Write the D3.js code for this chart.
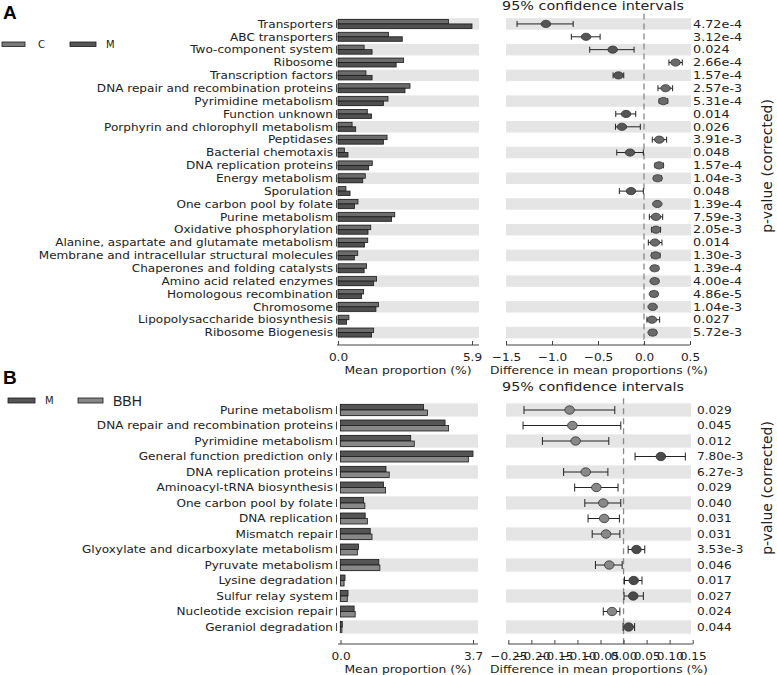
<!DOCTYPE html>
<html><head><meta charset="utf-8">
<script src="https://cdn.jsdelivr.net/npm/d3@7"></script>
<style>body{margin:0;background:#fff}svg{display:block}</style>
</head><body>
<svg id="chart" width="777" height="675"></svg>
<script>
// ---------- Panel A data ----------
const catsA = ["Transporters","ABC transporters","Two-component system","Ribosome","Transcription factors",
 "DNA repair and recombination proteins","Pyrimidine metabolism","Function unknown",
 "Porphyrin and chlorophyll metabolism","Peptidases","Bacterial chemotaxis","DNA replication proteins",
 "Energy metabolism","Sporulation","One carbon pool by folate","Purine metabolism","Oxidative phosphorylation",
 "Alanine, aspartate and glutamate metabolism","Membrane and intracellular structural molecules",
 "Chaperones and folding catalysts","Amino acid related enzymes","Homologous recombination","Chromosome",
 "Lipopolysaccharide biosynthesis","Ribosome Biogenesis"];
const meanC_A = [4.86,2.22,1.15,2.89,1.23,3.17,2.20,1.29,0.62,2.16,0.28,1.51,1.20,0.35,0.88,2.50,1.44,1.31,0.87,1.26,1.70,1.13,1.78,0.48,1.57];
const meanM_A = [5.90,2.83,1.50,2.56,1.50,2.95,2.00,1.47,0.78,2.00,0.44,1.35,1.09,0.53,0.73,2.36,1.32,1.17,0.72,1.15,1.57,1.04,1.67,0.38,1.48];
const diffA = [-1.066,-0.63,-0.34,0.343,-0.278,0.235,0.21,-0.195,-0.24,0.166,-0.152,0.163,0.148,-0.141,0.145,0.13,0.13,0.119,0.126,0.116,0.116,0.108,0.094,0.087,0.094];
const loA   = [-1.38,-0.79,-0.59,0.271,-0.336,0.152,0.166,-0.307,-0.31,0.09,-0.296,0.12,0.11,-0.268,0.12,0.058,0.083,0.047,0.083,0.08,0.08,0.074,0.062,0.032,0.06];
const hiA   = [-0.77,-0.477,-0.108,0.416,-0.22,0.311,0.257,-0.09,-0.04,0.246,-0.007,0.21,0.19,-0.007,0.17,0.203,0.18,0.195,0.174,0.152,0.152,0.142,0.126,0.17,0.13];
const pA = ["4.72e-4","3.12e-4","0.024","2.66e-4","1.57e-4","2.57e-3","5.31e-4","0.014","0.026","3.91e-3","0.048","1.57e-4",
 "1.04e-3","0.048","1.39e-4","7.59e-3","2.05e-3","0.014","1.30e-3","1.39e-4","4.00e-4","4.86e-5","1.04e-3","0.027","5.72e-3"];
const groupsA = ["C","M"];
const ticksA_left = [0, 5.9];
const ticksA_right = [-1.5,-1.0,-0.5,0.0,0.5];

// ---------- Panel B data ----------
const catsB = ["Purine metabolism","DNA repair and recombination proteins","Pyrimidine metabolism",
 "General function prediction only","DNA replication proteins","Aminoacyl-tRNA biosynthesis",
 "One carbon pool by folate","DNA replication","Mismatch repair","Glyoxylate and dicarboxylate metabolism",
 "Pyruvate metabolism","Lysine degradation","Sulfur relay system","Nucleotide excision repair","Geraniol degradation"];
const meanM_B   = [2.32,2.92,1.96,3.70,1.27,1.20,0.64,0.69,0.83,0.50,1.07,0.126,0.21,0.38,0.05];
const meanBBH_B = [2.43,3.02,2.06,3.57,1.36,1.26,0.68,0.75,0.88,0.47,1.10,0.10,0.19,0.41,0.04];
const diffB = [-0.117,-0.111,-0.104,0.081,-0.082,-0.059,-0.044,-0.042,-0.038,0.028,-0.031,0.022,0.021,-0.025,0.011];
const loB   = [-0.216,-0.218,-0.176,0.025,-0.13,-0.106,-0.084,-0.077,-0.068,0.010,-0.061,0.002,0.001,-0.044,-0.001];
const hiB   = [-0.019,-0.006,-0.032,0.134,-0.034,-0.012,-0.006,-0.009,-0.008,0.046,-0.003,0.040,0.043,-0.008,0.024];
const pB = ["0.029","0.045","0.012","7.80e-3","6.27e-3","0.029","0.040","0.031","0.031","3.53e-3","0.046","0.017","0.027","0.024","0.044"];
const groupsB = ["M","BBH"];
const ticksB_left = [0, 3.7];
const ticksB_right = [-0.25,-0.20,-0.15,-0.10,-0.05,0.00,0.05,0.10,0.15];

const svg = d3.select("#chart");
const FONT = "DejaVu Sans, sans-serif";

// stretched text helper (reference text is horizontally widened)
function stext(g, x, y, str, size, sx, anchor) {
  return g.append("text").attr("transform", `translate(${x},${y}) scale(${sx},1)`)
    .attr("text-anchor", anchor || "start").attr("font-family", FONT).attr("font-size", size)
    .attr("fill", "#222").text(str);
}

function panel(o) {
  const g = svg.append("g");
  const y = d3.scaleBand().domain(o.cats).range(o.yRange);
  const step = y.bandwidth();
  const yc = c => y(c) + step / 2;
  const xL = d3.scaleLinear().domain(o.leftDomain).range(o.leftRange);
  const xR = d3.scaleLinear().domain(o.rightDomain).range(o.rightRange);

  // gray bands
  o.cats.forEach((c, i) => {
    if (i % 2 === 0) {
      g.append("rect").attr("x", o.bandL[0]).attr("width", o.bandL[1] - o.bandL[0])
        .attr("y", yc(c) - o.bandH / 2).attr("height", o.bandH).attr("fill", "#e5e5e5");
      g.append("rect").attr("x", o.bandR[0]).attr("width", o.bandR[1] - o.bandR[0])
        .attr("y", yc(c) - o.bandH / 2).attr("height", o.bandH).attr("fill", "#e5e5e5");
    }
  });

  // category labels + tick marks
  o.cats.forEach(c => stext(g, 333, yc(c), c, o.labelSize, o.labelSx, "end").attr("dy", "0.36em"));
  g.selectAll("line.ytick").data(o.cats).join("line").attr("class", "ytick")
    .attr("x1", 336.5).attr("x2", 336.5).attr("y1", d => yc(d) - 4).attr("y2", d => yc(d) + 4)
    .attr("stroke", "#444").attr("stroke-width", 1);

  // bars
  const x0 = xL(0);
  [o.s1, o.s2].forEach((vals, k) => {
    g.selectAll("rect.bar" + k).data(o.cats).join("rect").attr("class", "bar" + k)
      .attr("x", x0)
      .attr("y", d => yc(d) - o.barH + k * o.barH)
      .attr("width", (d, i) => xL(vals[i]) - x0)
      .attr("height", o.barH)
      .attr("fill", o.colors[k]).attr("stroke", "#1a1a1a").attr("stroke-width", 0.8);
  });

  // zero dashed line
  g.append("line").attr("x1", xR(0)).attr("x2", xR(0))
    .attr("y1", o.yRange[0] - 4).attr("y2", o.axisY)
    .attr("stroke", "#888").attr("stroke-width", 1.3).attr("stroke-dasharray", "6,4");

  // error bars and dots
  o.cats.forEach((c, i) => {
    const cy = yc(c);
    g.append("line").attr("x1", xR(o.lo[i])).attr("x2", xR(o.hi[i])).attr("y1", cy).attr("y2", cy)
      .attr("stroke", "#222").attr("stroke-width", 1);
    [o.lo[i], o.hi[i]].forEach(v => {
      g.append("line").attr("x1", xR(v)).attr("x2", xR(v)).attr("y1", cy - o.capH / 2).attr("y2", cy + o.capH / 2)
        .attr("stroke", "#222").attr("stroke-width", 1);
    });
    g.append("ellipse").attr("cx", xR(o.diff[i])).attr("cy", cy).attr("rx", o.rx).attr("ry", o.ry)
      .attr("fill", o.diff[i] < 0 ? o.dotNeg : o.dotPos).attr("stroke", "#333").attr("stroke-width", 0.8);
  });

  // p-values
  o.cats.forEach((c, i) => stext(g, o.pX, yc(c), o.pvals[i], o.pSize, o.pSx).attr("dy", "0.36em"));

  // axes
  const axL = d3.axisBottom(xL).tickValues(o.leftTicks).tickFormat(d3.format(".1f")).tickSizeInner(-4).tickSizeOuter(0).tickPadding(8);
  const gl = g.append("g").attr("transform", `translate(0,${o.axisY})`).call(axL);
  gl.select(".domain").remove();
  gl.append("line").attr("x1", o.bandL[0] - 1).attr("x2", o.bandL[1]).attr("stroke", "#444");
  const axR = d3.axisBottom(xR).tickValues(o.rightTicks).tickFormat(d3.format(o.rightFmt)).tickSizeInner(-4).tickSizeOuter(0).tickPadding(8);
  const gr = g.append("g").attr("transform", `translate(0,${o.axisY})`).call(axR);
  gr.select(".domain").remove();
  gr.append("line").attr("x1", o.rightRange[0]).attr("x2", o.rightRange[1]).attr("stroke", "#444");
  [gl, gr].forEach(a => {
    a.selectAll(".tick line").attr("stroke", "#444");
    a.selectAll("text").attr("font-family", FONT).attr("font-size", 11).attr("fill", "#222")
      .attr("transform", `scale(${o.tickSx},1)`);
  });

  // axis titles
  stext(g, 408, o.axisY + 29, "Mean proportion (%)", 11, 1.125, "middle");
  stext(g, 599, o.axisY + 29, "Difference in mean proportions (%)", 11, 1.125, "middle");
  stext(g, 593, o.titleY, "95% confidence intervals", 11.5, 1.25, "middle");
  g.append("text").attr("transform", `translate(772,${o.pLabelY}) rotate(-90)`).attr("text-anchor", "middle")
    .attr("font-family", FONT).attr("font-size", 14).attr("fill", "#222").text("p-value (corrected)");

  // panel letter
  g.append("text").attr("x", 3).attr("y", o.letterY).attr("font-family", "Liberation Sans, Arial, sans-serif")
    .attr("font-weight", "bold").attr("font-size", 19).text(o.letter);

  // legend
  o.legend.forEach(L => {
    g.append("rect").attr("x", L.x).attr("y", L.y).attr("width", L.w).attr("height", L.h)
      .attr("fill", L.color).attr("stroke", "#1a1a1a").attr("stroke-width", 0.8);
    g.append("text").attr("x", L.tx).attr("y", L.y + L.h / 2).attr("dy", "0.36em")
      .attr("font-family", L.font).attr("font-size", L.fs).attr("fill", "#222").text(L.label);
  });
}

panel({
  letter: "A", letterY: 19, cats: catsA, s1: meanC_A, s2: meanM_A, colors: ["#6c6c6c", "#505050"],
  yRange: [17.5, 339], leftDomain: [0, 5.9], leftRange: [338, 472], rightDomain: [-1.5, 0.5], rightRange: [506, 690],
  bandL: [338, 479], bandR: [506, 691], bandH: 11.5, barH: 4.5, capH: 6, rx: 4.8, ry: 3.6,
  diff: diffA, lo: loA, hi: hiA, dotPos: "#6a6a6a", dotNeg: "#555", pvals: pA, pX: 693, pSize: 10.5, pSx: 1.22,
  labelSize: 10.5, labelSx: 1.15, tickSx: 1.1,
  axisY: 345, leftTicks: ticksA_left, rightTicks: ticksA_right, rightFmt: ".1f", titleY: 10, pLabelY: 166,
  legend: [
    {x: 2, y: 42, w: 23, h: 4.5, color: "#7a7a7a", tx: 38, label: groupsA[0], font: FONT, fs: 10},
    {x: 70, y: 42, w: 26, h: 4.5, color: "#555", tx: 106, label: groupsA[1], font: FONT, fs: 10}
  ]
});

panel({
  letter: "B", letterY: 384, cats: catsB, s1: meanM_B, s2: meanBBH_B, colors: ["#555", "#888"],
  yRange: [402.25, 634.75], leftDomain: [0, 3.7], leftRange: [340.5, 473], rightDomain: [-0.25, 0.15], rightRange: [508.3, 692.7],
  bandL: [339, 478], bandR: [506, 691], bandH: 13.3, barH: 5.5, capH: 8, rx: 4.8, ry: 4.2,
  diff: diffB, lo: loB, hi: hiB, dotPos: "#4a4a4a", dotNeg: "#888", pvals: pB, pX: 697, pSize: 11, pSx: 1.1,
  labelSize: 10.5, labelSx: 1.15, tickSx: 1.1,
  axisY: 644, leftTicks: ticksB_left, rightTicks: ticksB_right, rightFmt: ".2f", titleY: 391, pLabelY: 488,
  legend: [
    {x: 8, y: 398, w: 27, h: 5, color: "#555", tx: 45, label: groupsB[0], font: FONT, fs: 10},
    {x: 78, y: 398, w: 25, h: 5, color: "#888", tx: 113, label: groupsB[1], font: "Liberation Sans, Arial, sans-serif", fs: 14}
  ]
});
</script>
</body></html>
